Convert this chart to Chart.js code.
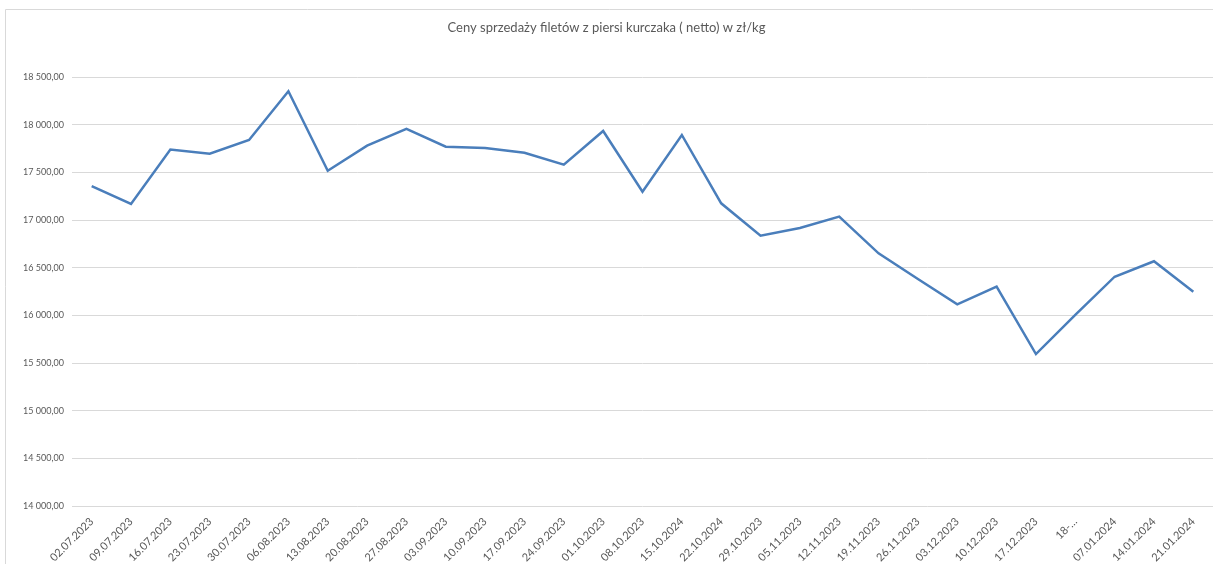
<!DOCTYPE html>
<html>
<head>
<meta charset="utf-8">
<script src="https://cdn.jsdelivr.net/npm/chart.js@4"></script>
<style>
html,body{margin:0;padding:0;background:#fff;}
#wrap{position:relative;width:1213px;height:564px;}
</style>
</head>
<body>
<div id="wrap"><canvas id="c" width="1213" height="564"></canvas></div>
<script>
const titleText = "Ceny sprzedaży filetów z piersi kurczaka ( netto) w zł/kg";
const categories = ["02.07.2023","09.07.2023","16.07.2023","23.07.2023","30.07.2023","06.08.2023","13.08.2023","20.08.2023","27.08.2023","03.09.2023","10.09.2023","17.09.2023","24.09.2023","01.10.2023","08.10.2023","15.10.2024","22.10.2024","29.10.2023","05.11.2023","12.11.2023","19.11.2023","26.11.2023","03.12.2023","10.12.2023","17.12.2023","18-…","07.01.2024","14.01.2024","21.01.2024"];
const prices = [17355,17168,17740,17696,17839,18350,17517,17780,17955,17769,17755,17706,17580,17934,17297,17892,17175,16835,16916,17035,16650,16381,16116,16301,15594,16004,16405,16567,16248];
const yMin = 14000, yMax = 18500, yStep = 500;

function fmt(v){
  const s = Math.round(v).toString().replace(/\B(?=(\d{3})+(?!\d))/g, " ");
  return s + ",00";
}

const borderPlugin = {
  id: 'frame',
  beforeDraw(chart){
    const ctx = chart.ctx;
    ctx.save();
    ctx.strokeStyle = '#d9d9d9';
    ctx.lineWidth = 1;
    ctx.beginPath();
    ctx.moveTo(5.5, 564);
    ctx.lineTo(5.5, 9.5);
    ctx.lineTo(1213, 9.5);
    ctx.stroke();
    ctx.restore();
  }
};

const FONT = "Lato, 'Open Sans', sans-serif";

new Chart(document.getElementById('c'), {
  type: 'line',
  data: {
    labels: categories,
    datasets: [{
      data: prices,
      borderColor: '#4a7ebb',
      borderWidth: 2.5,
      pointRadius: 0,
      tension: 0,
      fill: false
    }]
  },
  options: {
    responsive: false,
    animation: false,
    layout: { padding: { left: 0, right: 0, top: 0, bottom: 0 } },
    plugins: {
      legend: { display: false },
      tooltip: { enabled: false },
      title: {
        display: true,
        text: titleText,
        color: '#595959',
        font: { family: FONT, size: 13, weight: 'normal', lineHeight: 1.2 },
        padding: { top: 20, bottom: 41.4 }
      }
    },
    scales: {
      x: {
        type: 'category',
        offset: true,
        grid: { display: false, drawTicks: false },
        border: { display: false },
        ticks: {
          autoSkip: false,
          maxRotation: 45,
          minRotation: 45,
          color: '#595959',
          font: { family: FONT, size: 11 },
          padding: 9
        },
        afterFit(scale){ scale.height = 58; }
      },
      y: {
        min: yMin,
        max: yMax,
        grid: { color: '#d9d9d9', lineWidth: 1, drawTicks: false },
        border: { display: false },
        ticks: {
          stepSize: yStep,
          color: '#595959',
          font: { family: FONT, size: 9 },
          padding: 8,
          callback: v => fmt(v)
        },
        afterFit(scale){ scale.width = 72; }
      }
    }
  },
  plugins: [borderPlugin]
});
</script>
</body>
</html>
